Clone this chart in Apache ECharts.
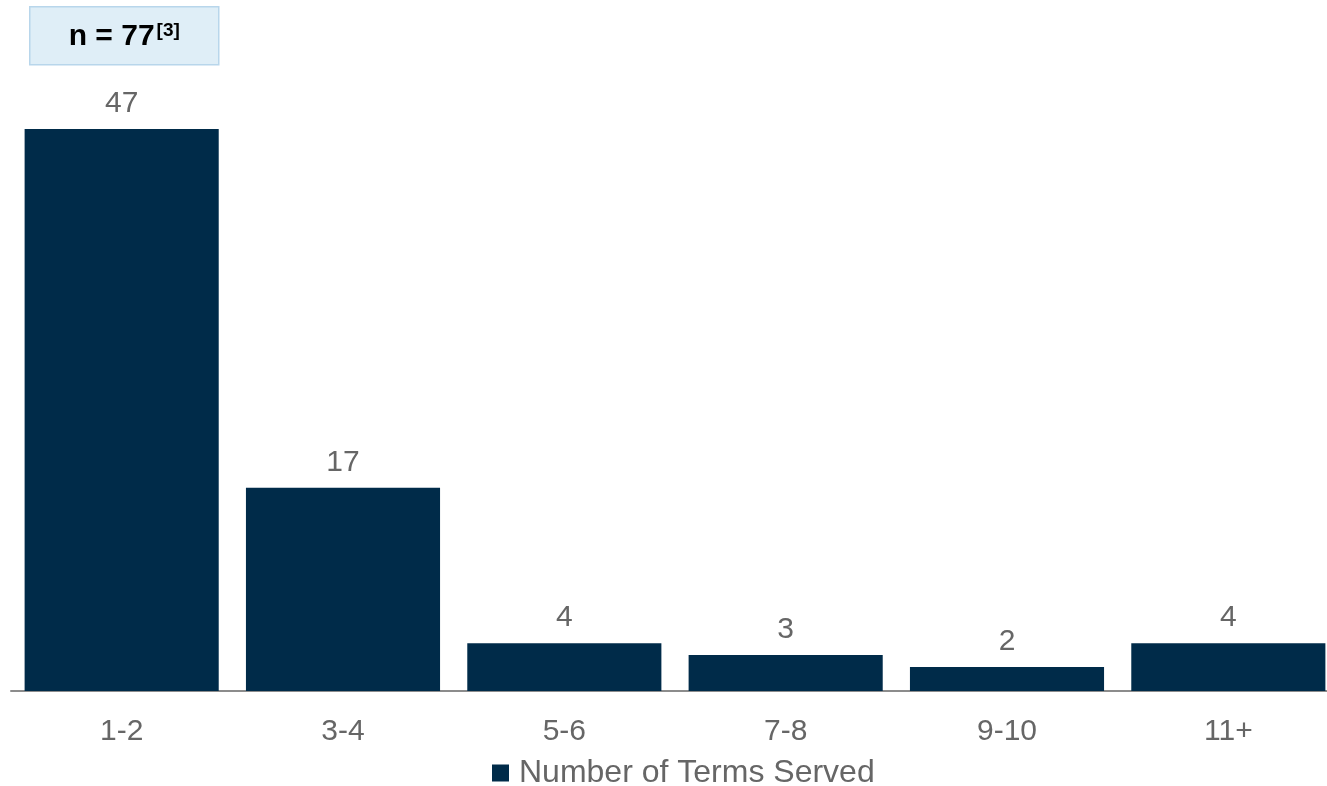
<!DOCTYPE html>
<html>
<head>
<meta charset="utf-8">
<script src="https://cdn.jsdelivr.net/npm/echarts@6/dist/echarts.min.js"></script>
<style>
html,body{margin:0;padding:0;background:#fff;overflow:hidden;}
#chart{width:1340px;height:786px;}
</style>
</head>
<body>
<div id="chart"></div>
<script>
const categories = ['1-2', '3-4', '5-6', '7-8', '9-10', '11+'];
const termCounts = [47, 17, 4, 3, 2, 4];
const seriesName = 'Number of Terms Served';
const sampleMain = 'n = 77';
const sampleNote = '[3]';

const FONT = '"Liberation Sans", Arial, sans-serif';
const chart = echarts.init(document.getElementById('chart'));
chart.setOption({
  animation: false,
  backgroundColor: '#ffffff',
  grid: { left: 11, width: 1328, bottom: 95, height: 598, containLabel: false },
  legend: {
    data: [seriesName],
    top: 757,
    left: 492,
    padding: 0,
    itemWidth: 17, itemHeight: 17, itemGap: 6,
    icon: 'rect',
    textStyle: { fontFamily: FONT, fontSize: 32, color: '#666666', padding: [0, 0, 0, 5] }
  },
  xAxis: {
    type: 'category',
    data: categories,
    axisLine: { show: true, lineStyle: { color: '#8c8c8c', width: 2 } },
    axisTick: { show: false },
    axisLabel: { fontFamily: FONT, fontSize: 30, color: '#666666', margin: 26 }
  },
  yAxis: {
    type: 'value', min: 0, max: 50, show: false,
    splitLine: { show: false }
  },
  series: [{
    name: seriesName,
    type: 'bar',
    data: termCounts,
    barCategoryGap: '12.3%',
    itemStyle: { color: '#002B49' },
    label: {
      show: true, position: 'top', distance: 10,
      fontFamily: FONT, fontSize: 30, color: '#666666'
    }
  }],
  graphic: [{
    type: 'group', left: 29, top: 6,
    children: [
      { type: 'rect', shape: { x: 0, y: 0, width: 189, height: 58 },
        style: { fill: '#DFEEF7', stroke: '#B8D6EB', lineWidth: 1.5 } },
      { type: 'text', x: 94.5, y: 30,
        style: {
          text: '{a|' + sampleMain + '}{b|' + sampleNote + '}',
          align: 'center', verticalAlign: 'middle',
          rich: {
            a: { fontFamily: FONT, fontSize: 30, fontWeight: 'bold', fill: '#000000' },
            b: { fontFamily: FONT, fontSize: 19, fontWeight: 'bold', fill: '#000000', verticalAlign: 'top', padding: [0, 0, 12, 2] }
          }
        } }
    ]
  }]
});
</script>
</body>
</html>
